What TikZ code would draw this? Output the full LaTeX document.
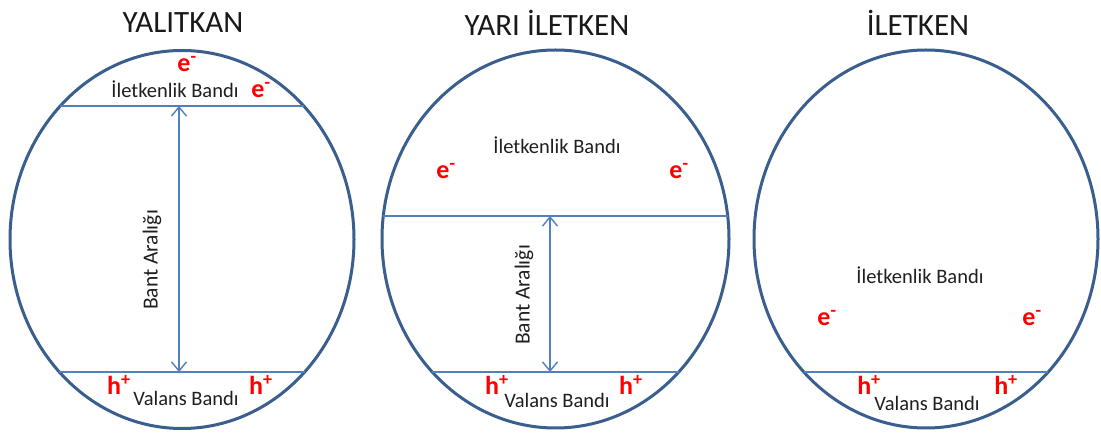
\documentclass[tikz,border=0pt]{standalone}
\usepackage{fontspec}
\setmainfont{Carlito}
\usetikzlibrary{shapes.geometric,arrows.meta}
\definecolor{ringblue}{HTML}{3A5F8E}
\definecolor{bandblue}{HTML}{4F81BD}
\definecolor{chargered}{HTML}{FF0000}
\tikzset{
  ring/.style={draw=ringblue, line width=3pt, ellipse, inner sep=0pt, outer sep=0pt},
  bandline/.style={draw=bandblue, line width=1.6pt},
  gaparrow/.style={draw=bandblue, line width=1.4pt, {Straight Barb[length=9pt,width=15pt]}-{Straight Barb[length=9pt,width=15pt]}},
  title/.style={font=\fontsize{31}{31}\selectfont, text=black!90, inner sep=0pt},
  bandlabel/.style={font=\fontsize{20.5}{20.5}\selectfont, text=black!88, inner sep=0pt},
  gaplabel/.style={font=\fontsize{21.5}{21.5}\selectfont, text=black!88, inner sep=0pt, rotate=90},
  charge/.style={font=\fontsize{26}{26}\selectfont\bfseries, text=chargered, inner sep=0pt}
}
\newcommand{\elec}{e\textsuperscript{-}}
\newcommand{\hole}{h\textsuperscript{+}}
\begin{document}
\begin{tikzpicture}[x=1pt,y=-1pt]
\useasboundingbox[fill=white] (0,0) rectangle (1101,435);

% ---------- YALITKAN ----------
\node[title] (t1) at (183,23) {YALITKAN};
\node[ring, minimum width=344pt, minimum height=378pt] (e1) at (182,239.5) {};
\coordinate (b1tl) at (60,106);  \coordinate (b1tr) at (304,106);
\coordinate (b1bl) at (59,372);  \coordinate (b1br) at (305,372);
\coordinate (a1t) at (179,106);  \coordinate (a1b) at (179,372);
\draw[bandline] (b1tl) -- (b1tr);
\draw[bandline] (b1bl) -- (b1br);
\draw[gaparrow] (a1t) -- (a1b);
\node[bandlabel] (cb1) at (175,89) {İletkenlik Bandı};
\node[gaplabel] (g1) at (152,260) {Bant Aralığı};
\node[bandlabel] (vb1) at (186,398) {Valans Bandı};
\node[charge] (e1a) at (187,64) {\elec};
\node[charge] (e1b) at (261,90) {\elec};
\node[charge] (h1a) at (119,385) {\hole};
\node[charge] (h1b) at (261,385) {\hole};

% ---------- YARI ILETKEN ----------
\node[title] (t2) at (547,23) {YARI İLETKEN};
\node[ring, minimum width=347pt, minimum height=378pt] (e2) at (555.5,239) {};
\coordinate (b2tl) at (383,216);  \coordinate (b2tr) at (728,216);
\coordinate (b2bl) at (432,372);  \coordinate (b2br) at (679,372);
\coordinate (a2t) at (550,216);   \coordinate (a2b) at (550,372);
\draw[bandline] (b2tl) -- (b2tr);
\draw[bandline] (b2bl) -- (b2br);
\draw[gaparrow] (a2t) -- (a2b);
\node[bandlabel] (cb2) at (557,145) {İletkenlik Bandı};
\node[gaplabel] (g2) at (524,295) {Bant Aralığı};
\node[bandlabel] (vb2) at (557,400) {Valans Bandı};
\node[charge] (e2a) at (446,171) {\elec};
\node[charge] (e2b) at (679,171) {\elec};
\node[charge] (h2a) at (497,385) {\hole};
\node[charge] (h2b) at (631,385) {\hole};

% ---------- ILETKEN ----------
\node[title] (t3) at (918,23) {İLETKEN};
\node[ring, minimum width=344pt, minimum height=378pt] (e3) at (926,239) {};
\coordinate (b3bl) at (804,372);  \coordinate (b3br) at (1048,372);
\draw[bandline] (b3bl) -- (b3br);
\node[bandlabel] (cb3) at (920,275) {İletkenlik Bandı};
\node[bandlabel] (vb3) at (927,403) {Valans Bandı};
\node[charge] (e3a) at (827,318) {\elec};
\node[charge] (e3b) at (1032,318) {\elec};
\node[charge] (h3a) at (869,385) {\hole};
\node[charge] (h3b) at (1006,385) {\hole};
\end{tikzpicture}
\end{document}
